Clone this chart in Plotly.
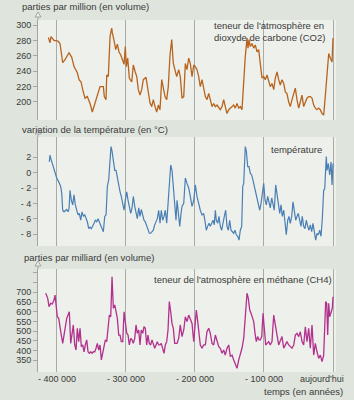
import plotly.graph_objects as go

# ---------------- data (ages in thousands of years, negative = before present) ----------------
co2_age = [-412.5,-410.1,-408.6,-404.3,-398.5,-395.6,-391.7,-388.3,-382.5,-378.6,-375.3,-370.5,
           -368.0,-365.1,-362.7,-359.4,-356.0,-352.1,-348.8,-344.9,-340.9,-337.6,-332.8,-331.4,
           -328.9,-327.9,-325.6,-323.1,-320.7,-319.8,-316.9,-314.9,-312.5,-310.1,-307.6,-304.7,
           -302.8,-301.0,-299.5,-297.5,-295.2,-291.7,-289.4,-286.9,-284.4,-282.1,-279.7,-277.2,
           -274.9,-271.0,-268.5,-265.2,-262.7,-260.4,-257.9,-255.5,-253.1,-250.7,-248.2,-245.9,
           -243.4,-241.0,-238.7,-236.2,-233.7,-231.4,-228.9,-226.5,
           -223.6,-221.3,-218.8,-216.3,-214.0,-211.6,-209.1,-206.8,-204.3,-201.8,
           -199.5,-197.1,-194.6,-192.3,-189.8,-187.4,-185.0,-182.6,-180.1,-177.8,
           -175.3,-172.9,-170.5,-168.1,-165.6,-163.3,-160.8,-158.4,-156.1,-153.6,
           -151.1,-148.8,-146.3,-143.9,-141.6,-139.1,-136.6,-134.3,-131.9,-129.4,
           -127.1,-124.6,-123.2,-121.7,-119.8,-117.4,-114.9,-112.6,-110.1,-107.7,
           -105.3,-102.9,-100.4,-98.1,-95.6,-93.2,-90.9,-88.4,-85.9,-83.6,
           -81.1,-78.7,-76.4,-73.9,-71.4,-69.1,-66.7,-64.2,-61.9,-59.4,
           -56.9,-54.6,-52.2,-49.7,-47.4,-44.9,-42.5,-40.1,-37.7,-35.2,
           -32.9,-30.4,-28.0,-25.6,-23.2,-20.7,-18.4,-15.9,-13.5,-11.2,
           -8.7,-6.2,-3.9,-1.4,0.0]
co2_ppm = [284,277,285,280,279,276,251,255,264,258,246,238,
           229,226,216,205,207,198,187,198,212,220,220,207,
           203,235,233,285,296,290,278,268,275,265,261,255,
           249,272,246,257,231,226,248,240,233,216,209,216,
           229,232,216,199,194,203,194,187,196,190,229,216,
           207,203,220,261,281,250,242,233,
           242,233,205,207,250,242,257,250,233,248,
           246,242,233,220,229,216,207,203,211,203,
           194,198,194,196,192,190,194,203,194,185,
           190,192,194,196,192,198,192,194,190,229,
           259,283,270,281,272,276,270,274,265,268,
           246,231,233,229,235,226,220,224,216,231,
           239,229,222,229,224,213,211,200,194,203,
           211,218,203,192,200,209,194,200,205,207,
           207,205,196,192,190,192,190,185,183,207,
           235,263,257,252,283]

temp_age = [-411.1,-410.1,-409.1,-407.6,-405.3,-402.8,-400.4,-398.0,-396.6,-394.6,
            -393.1,-391.7,-389.8,-387.9,-385.9,-384.0,-382.5,-381.1,-379.2,-377.2,
            -375.3,-373.4,-371.4,-369.5,-367.6,-365.6,-363.7,-361.8,-359.8,-357.9,
            -356.0,-354.0,-352.1,-350.2,-348.2,-346.3,-344.4,-342.4,-340.5,-338.6,
            -336.6,-334.7,-332.8,-330.8,-328.9,-327.0,-325.0,-323.1,-321.7,-320.2,
            -318.4,-316.3,-314.4,-312.5,-310.5,-308.6,-306.8,-304.7,-302.8,-301.0,
            -298.9,-297.0,-295.2,-293.1,-291.2,-289.4,-287.3,-285.5,-283.6,-281.5,
            -279.7,-277.8,-275.7,-273.9,-272.0,-270.0,-268.1,-266.2,-264.2,-262.3,
            -260.4,-258.4,-256.5,-254.6,-252.6,-250.7,-248.8,-246.8,-244.9,-243.0,
            -241.0,-239.1,-237.2,-235.2,-233.3,-231.4,-229.4,-227.5,
            -226.0,-223.6,-222.1,-220.2,-218.8,-216.3,-214.0,-211.6,-209.1,-206.8,
            -204.3,-201.8,-199.5,-197.1,-194.6,-192.3,-189.8,-187.4,-185.0,-183.6,
            -181.6,-179.7,-177.8,-175.8,-173.9,-172.0,-170.5,-169.1,-167.1,-165.2,
            -163.3,-161.3,-159.4,-157.5,-155.5,-153.6,-151.7,-149.7,-147.8,-145.9,
            -143.9,-142.0,-140.1,-138.1,-136.2,-134.3,-132.3,-130.8,-129.4,-127.1,
            -125.6,-123.6,-121.7,-119.8,-117.8,-115.9,-114.0,-112.0,-110.1,-108.2,
            -106.2,-104.3,-102.4,-100.4,-98.5,-96.6,-94.6,-92.7,-90.9,-88.8,
            -86.9,-85.1,-83.0,-81.1,-79.3,-77.2,-75.3,-73.5,-71.4,-69.6,
            -67.7,-65.6,-63.8,-61.9,-59.8,-58.0,-56.1,-54.0,-52.2,-50.3,
            -48.3,-46.4,-44.5,-42.5,-40.6,-38.7,-36.7,-34.8,-32.9,-30.9,
            -29.0,-27.1,-25.1,-23.2,-21.3,-19.3,-17.4,-15.5,-13.5,-12.0,
            -10.6,-9.7,-8.7,-6.8,-4.8,-2.9,-1.4,0.0]
temp_dc = [1.4,2.3,1.9,1.4,0.8,0.1,-0.7,-1.1,-1.4,-1.8,
           -2.7,-4.9,-5.1,-4.9,-4.8,-5.1,-4.7,-2.3,-3.6,-4.2,
           -2.9,-4.2,-4.9,-5.5,-5.3,-6.2,-5.1,-5.7,-5.5,-6.0,
           -6.4,-7.3,-7.1,-7.3,-6.8,-6.6,-6.2,-6.4,-6.0,-6.4,
           -6.8,-7.1,-7.7,-5.7,-5.5,-1.8,-0.9,1.6,3.4,2.8,
           1.2,0.3,0.3,-0.7,-1.6,-2.5,-3.1,-4.2,-4.9,-3.6,
           -2.5,-3.6,-4.4,-5.3,-4.6,-3.1,-4.4,-5.3,-6.0,-4.6,
           -5.7,-4.8,-5.7,-6.2,-6.4,-7.0,-7.3,-7.9,-7.9,-7.7,
           -7.5,-6.8,-6.4,-6.0,-4.9,-6.6,-4.9,-6.2,-5.7,-4.9,
           -6.6,-4.0,-0.5,1.0,0.3,-1.8,-4.0,-6.2,
           -3.6,-6.2,-7.0,-5.3,-4.4,-4.0,-0.7,-1.4,-2.0,-3.1,
           -4.4,-3.6,-1.6,-3.1,-4.2,-4.9,-5.5,-5.3,-6.6,-7.5,
           -7.0,-6.6,-7.0,-6.6,-6.2,-6.8,-4.9,-6.2,-6.6,-5.7,
           -7.0,-7.5,-6.8,-5.7,-4.9,-7.0,-7.5,-6.2,-7.5,-7.7,
           -7.9,-7.5,-8.1,-8.3,-8.8,-7.5,-7.0,-1.8,-1.4,3.4,
           2.8,0.8,0.8,-0.1,-0.3,-1.0,-1.8,-2.7,-3.6,-4.2,
           -4.9,-4.0,-2.9,-1.4,-3.6,-4.2,-3.1,-4.0,-4.6,-3.3,
           -4.4,-4.9,-1.6,-2.9,-4.4,-5.3,-4.2,-5.7,-4.9,-6.2,
           -8.1,-6.2,-5.7,-6.6,-5.7,-3.8,-4.9,-6.2,-5.7,-5.3,
           -6.2,-7.0,-5.7,-7.0,-7.3,-6.2,-7.0,-7.5,-6.8,-7.7,
           -6.6,-7.9,-8.8,-7.9,-8.1,-7.5,-8.3,-6.0,-2.3,-2.1,
           0.8,2.1,0.3,1.2,-0.3,1.4,-1.6,1.2]

ch4_age = [-416.3,-413.4,-411.5,-409.1,-406.7,-404.3,-402.8,-401.4,-399.5,-397.5,
           -395.6,-393.7,-391.7,-389.8,-387.9,-385.9,-384.0,-382.1,-380.1,-378.2,
           -376.3,-374.3,-372.4,-370.5,-368.5,-366.6,-364.7,-362.7,-360.8,-358.9,
           -356.9,-355.0,-353.1,-351.1,-349.2,-347.3,-345.3,-343.4,-341.5,-339.5,
           -337.6,-335.7,-333.7,-331.8,-329.9,-327.9,-326.0,-324.1,-322.1,-320.2,
           -318.3,-316.3,-314.4,-312.5,-310.5,-308.6,-306.8,-304.7,-302.8,-301.0,
           -298.9,-297.0,-295.2,-293.1,-291.2,-289.4,-287.3,-285.5,-283.6,-281.5,
           -279.7,-277.8,-275.7,-273.9,-272.0,-270.0,-268.1,-266.2,-264.2,-262.3,
           -260.4,-258.4,-256.5,-254.6,-252.6,-250.7,-248.8,-246.8,-244.9,-243.0,
           -241.0,-239.1,-237.2,-235.2,-233.3,-231.4,-229.4,-227.5,
           -226.0,-223.6,-221.3,-218.8,-216.3,-214.0,-211.6,-209.1,-206.8,-204.3,
           -201.8,-199.5,-198.1,-196.0,-194.2,-192.3,-189.8,-187.4,-185.0,-182.6,
           -180.1,-177.8,-175.3,-172.9,-170.5,-168.1,-165.6,-163.3,-160.8,-158.4,
           -156.1,-153.6,-151.1,-148.8,-146.3,-143.9,-141.6,-139.1,-136.6,-134.3,
           -131.9,-129.4,-127.1,-124.6,-122.7,-120.7,-118.8,-116.9,-114.9,-113.0,
           -111.1,-109.1,-107.2,-105.3,-103.3,-101.4,-99.5,-97.5,-95.6,-93.2,
           -90.9,-88.4,-85.9,-83.6,-81.1,-78.7,-76.4,-73.9,-71.4,-69.1,
           -66.7,-64.2,-61.9,-59.4,-56.9,-54.6,-52.2,-49.7,-47.4,-44.9,
           -42.5,-40.1,-37.7,-35.2,-32.9,-30.4,-28.0,-25.6,-23.2,-20.7,
           -18.4,-15.9,-13.5,-12.0,-10.6,-9.1,-7.7,-6.2,-4.8,-2.5,
           -1.0,0.0]
ch4_ppb = [695,669,626,643,640,660,686,643,574,566,
           532,480,437,489,523,566,583,600,437,489,
           532,429,403,515,446,515,420,429,394,429,
           455,394,386,394,386,394,394,412,437,403,
           429,352,394,429,455,446,506,583,574,780,
           618,635,600,566,480,480,446,446,600,549,
           489,480,429,463,455,437,463,532,489,506,
           429,506,489,523,515,429,480,437,429,455,
           437,412,429,446,429,429,437,412,386,429,
           446,506,652,600,540,515,437,437,
           437,463,532,472,506,574,549,583,557,540,
           446,549,609,549,497,429,412,429,429,497,
           515,489,437,429,480,446,420,412,386,403,
           377,412,429,369,377,352,335,309,352,377,
           412,463,566,695,669,609,592,574,549,489,
           446,472,455,455,472,592,523,429,437,446,
           429,446,583,523,480,429,446,472,412,429,
           446,429,420,412,429,480,489,472,497,446,
           429,523,446,515,412,532,377,437,394,360,
           377,343,377,532,652,643,480,643,574,600,
           618,677]

x_ticks = [-400, -300, -200, -100, 0]
x_ticktext = ["- 400 000", "- 300 000", "- 200 000", "- 100 000", ""]
co2_ticks = [200, 220, 240, 260, 280, 300]
temp_ticks = [2, 0, -2, -4, -6, -8]
temp_ticktext = ["2", "0", "- 2", "- 4", "- 6", "- 8"]
ch4_ticks = [350, 400, 450, 500, 550, 600, 650, 700, 750, 800]
ch4_ticktext = ["350", "400", "450", "500", "550", "600", "650", "700", "", ""]

# ---------------- layout helpers ----------------
W, H = 354, 400
def fx(p):
    return p / W
def fy(p):
    return 1 - p / H

FIG_BG = "#dfe4dd"
PANEL_BG = "#eef0eb"
GRID = "#a9aba7"
AXIS = "#a3a5a1"
TXT = "#3a3a3a"
FONT = "Liberation Sans, Arial, sans-serif"

x_dom = [fx(38), fx(336)]
x_rng = [-427.5, 4.35]
panels = [  # (top px, bottom px, y range)
    (20, 120, [176.6, 306.5]),
    (137, 246, [-9.56, 4.65]),
    (269, 372, [289.8, 820]),
]

fig = go.Figure()
fig.add_trace(go.Scatter(x=co2_age, y=co2_ppm, mode="lines", xaxis="x", yaxis="y",
                         line=dict(color="#b8641e", width=1.3), hoverinfo="skip"))
fig.add_trace(go.Scatter(x=temp_age, y=temp_dc, mode="lines", xaxis="x2", yaxis="y2",
                         line=dict(color="#4a7fb6", width=1.2), hoverinfo="skip"))
fig.add_trace(go.Scatter(x=ch4_age, y=ch4_ppb, mode="lines", xaxis="x3", yaxis="y3",
                         line=dict(color="#b2308e", width=1.3), hoverinfo="skip"))

def xaxis_cfg(anchor, labels):
    return dict(domain=x_dom, range=x_rng, anchor=anchor, tickvals=x_ticks,
                ticktext=x_ticktext, showticklabels=labels, ticks="", showgrid=True,
                gridcolor=GRID, gridwidth=1, zeroline=False, showline=False,
                tickfont=dict(family=FONT, size=9, color=TXT), fixedrange=True)

def yaxis_cfg(anchor, i, tickvals, ticktext):
    top, bot, rng = panels[i]
    return dict(domain=[fy(bot), fy(top)], range=rng, anchor=anchor,
                tickvals=tickvals, ticktext=ticktext, ticks="outside", ticklen=4,
                tickcolor=AXIS, showgrid=False, zeroline=False, showline=True,
                linecolor=AXIS, linewidth=1,
                tickfont=dict(family=FONT, size=9, color=TXT), fixedrange=True)

fig.update_layout(
    width=W, height=H, margin=dict(l=0, r=0, t=0, b=0),
    paper_bgcolor=FIG_BG, plot_bgcolor=PANEL_BG, showlegend=False,
    xaxis=xaxis_cfg("y", False),
    xaxis2=xaxis_cfg("y2", False),
    xaxis3=xaxis_cfg("y3", True),
    yaxis=yaxis_cfg("x", 0, co2_ticks, [str(v) for v in co2_ticks]),
    yaxis2=yaxis_cfg("x2", 1, temp_ticks, temp_ticktext),
    yaxis3=yaxis_cfg("x3", 2, ch4_ticks, ch4_ticktext),
    font=dict(family=FONT, size=9.5, color=TXT),
)

# arrows on top of the y axes
shapes = []
for top, bot, rng in panels:
    shapes.append(dict(type="line", xref="paper", yref="paper",
                       x0=fx(38), x1=fx(38), y0=fy(top), y1=fy(top - 3),
                       line=dict(color=AXIS, width=1)))
    shapes.append(dict(type="path", xref="paper", yref="paper",
                       path=f"M {fx(38)},{fy(top-8)} L {fx(35)},{fy(top-3)} L {fx(41)},{fy(top-3)} Z",
                       line=dict(color=AXIS, width=1), fillcolor=PANEL_BG))
fig.update_layout(shapes=shapes)

def ann(text, x, y, xanchor="left", size=9.5):
    return dict(text=text, xref="paper", yref="paper", x=fx(x), y=fy(y),
                xanchor=xanchor, yanchor="middle", showarrow=False,
                font=dict(family=FONT, size=size, color=TXT))

annotations = [
    ann("parties par million (en volume)", 20, 7),
    ann("teneur de l'atmosphère en", 212, 25),
    ann("dioxyde de carbone (CO2)", 212, 37),
    ann("variation de la température (en °C)", 20, 129),
    ann("température", 269, 149),
    ann("parties par milliard (en volume)", 22, 257),
    ann("teneur de l'atmosphère en méthane (CH4)", 334, 279, xanchor="right"),
    ann("aujourd'hui", 346, 379, xanchor="right", size=9),
    ann("temps (en années)", 345, 391, xanchor="right"),
]
fig.update_layout(annotations=annotations)

fig.write_html("out.html")
